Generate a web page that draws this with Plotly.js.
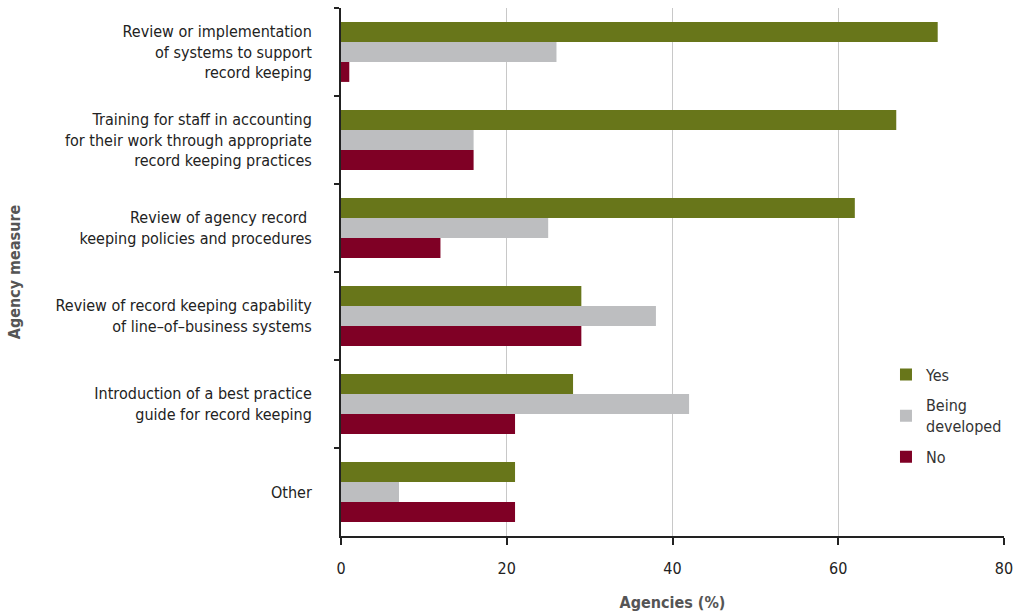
<!DOCTYPE html>
<html>
<head>
<meta charset="utf-8">
<script src="https://cdn.plot.ly/plotly-3.0.1.min.js"></script>
<style>html,body{margin:0;padding:0;background:#fff;}#chart{width:1024px;height:612px;}</style>
</head>
<body>
<div id="chart"></div>
<script>
const categories = [
  "Review or implementation<br>of systems to support<br>record keeping",
  "Training for staff in accounting<br>for their work through appropriate<br>record keeping practices",
  "Review of agency record <br>keeping policies and procedures",
  "Review of record keeping capability<br>of line–of–business systems",
  "Introduction of a best practice<br>guide for record keeping",
  "Other"
];
const seriesNames = ["Yes", "Being<br>developed", "No"];
const yesValues = [72, 67, 62, 29, 28, 21];
const developingValues = [26, 16, 25, 38, 42, 7];
const noValues = [1, 16, 12, 29, 21, 21];
const xTicks = [0, 20, 40, 60, 80];

const FONT = "'Liberation Sans Narrow', 'DejaVu Sans Condensed', 'Arial Narrow', sans-serif";
const colors = ["#68761A", "#BDBEC0", "#7F0025"];
const vals = [yesValues, developingValues, noValues];

const traces = vals.map((v, i) => ({
  type: "bar",
  orientation: "h",
  name: seriesNames[i],
  legendgroup: "g" + i,
  y: categories,
  x: v,
  marker: {color: colors[i], line: {width: 0}},
  hoverinfo: "x+name"
}));

const layout = {
  width: 1024,
  height: 612,
  margin: {l: 341, r: 20, t: 8, b: 76},
  paper_bgcolor: "#fff",
  plot_bgcolor: "#fff",
  font: {family: FONT, size: 16, color: "#222"},
  barmode: "group",
  bargap: 0.32,
  bargroupgap: 0,
  showlegend: true,
  legend: {
    x: 0.822, y: 0.338, xanchor: "left", yanchor: "top",
    font: {family: FONT, size: 16, color: "#333"},
    bgcolor: "rgba(0,0,0,0)",
    tracegroupgap: 7,
    itemsizing: "constant"
  },
  xaxis: {
    range: [0, 80],
    tickvals: xTicks,
    ticktext: xTicks.map(String),
    showgrid: true,
    gridcolor: "#C8C8C8",
    gridwidth: 1,
    zeroline: false,
    showline: true,
    linecolor: "#222",
    linewidth: 2,
    ticks: "outside",
    ticklen: 7,
    tickwidth: 2,
    tickcolor: "#222",
    ticklabelstandoff: 10,
    tickfont: {family: FONT, size: 16, color: "#222"},
    title: {text: "<b>Agencies (%)</b>", font: {family: FONT, size: 16, color: "#555"}, standoff: 20},
    fixedrange: true
  },
  yaxis: {
    type: "category",
    autorange: "reversed",
    showline: true,
    linecolor: "#222",
    linewidth: 2,
    ticks: "outside",
    tickson: "boundaries",
    ticklen: 5,
    tickwidth: 2,
    tickcolor: "#222",
    ticklabelstandoff: 24,
    showgrid: false,
    tickfont: {family: FONT, size: 16, color: "#222"},
    title: {text: "<b>Agency measure</b>", font: {family: FONT, size: 16, color: "#555"}, standoff: 31},
    fixedrange: true
  }
};

Plotly.newPlot("chart", traces, layout, {displayModeBar: false, staticPlot: true});
</script>
</body>
</html>
